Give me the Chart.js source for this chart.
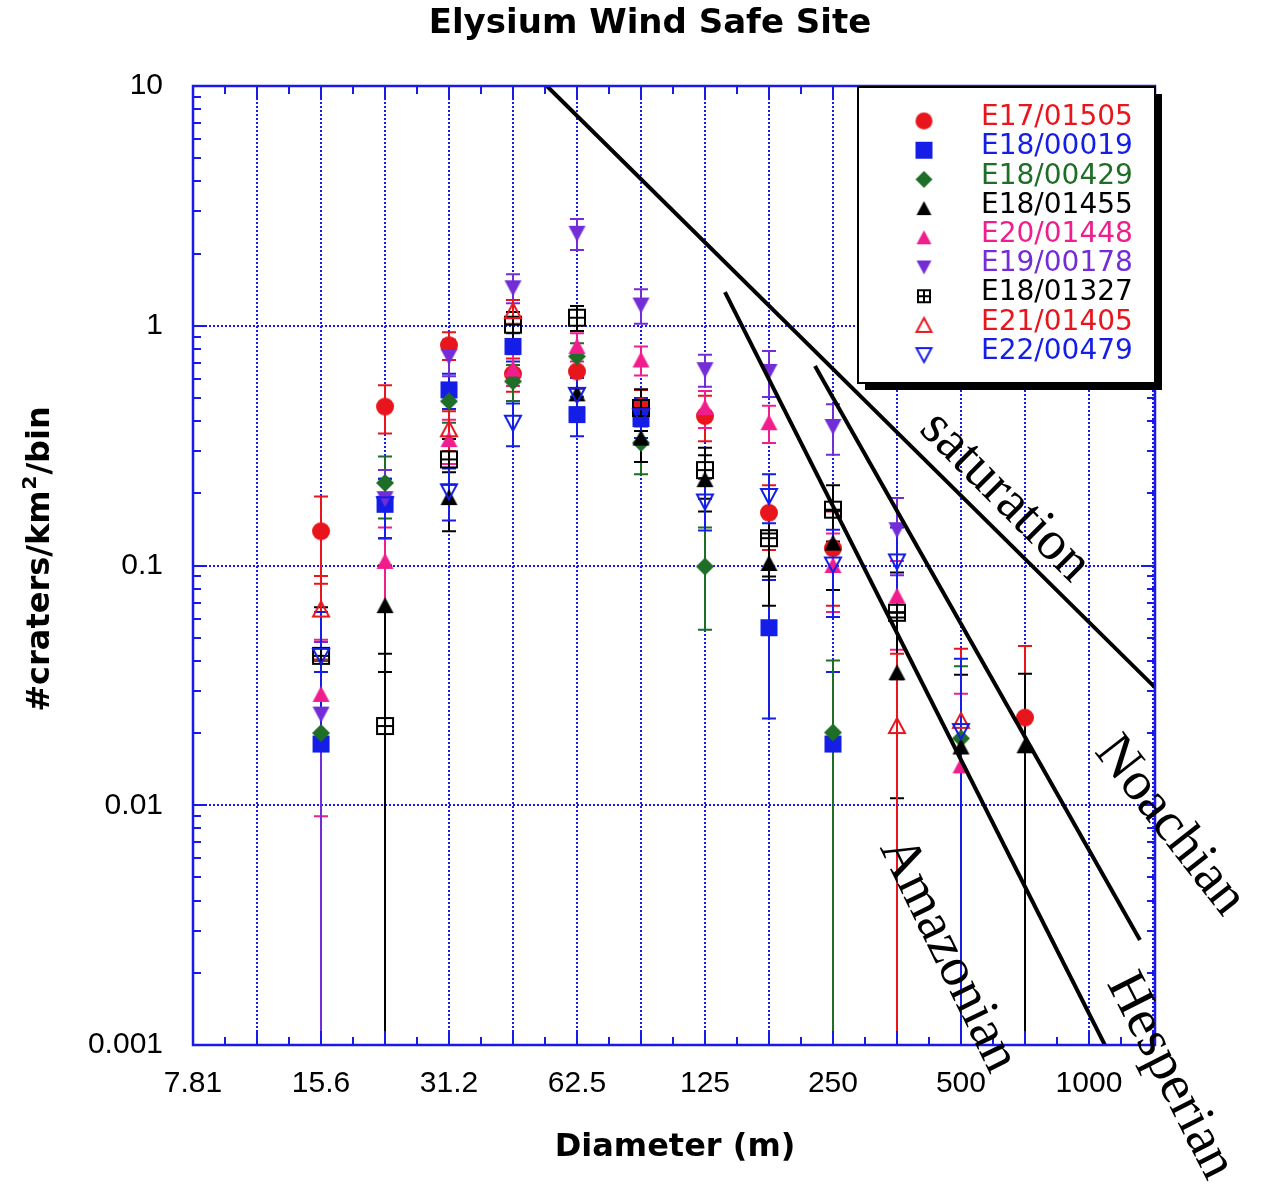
<!DOCTYPE html>
<html>
<head>
<meta charset="utf-8">
<title>Elysium Wind Safe Site</title>
<script src="https://cdn.jsdelivr.net/npm/chart.js@4.4.1/dist/chart.umd.min.js"></script>
<style>
  body { margin: 0; background: #fff; }
  canvas { display: block; }
</style>
</head>
<body>
<canvas id="Chart1" width="1263" height="1187"></canvas>
<script>
// crater diameter bins (m), sqrt(2) spacing
const diameters = [15.63, 22.1, 31.25, 44.19, 62.5, 88.39, 125, 176.8, 250, 353.6, 500, 707.1];

const xTickLabels = ['7.81', '15.6', '31.2', '62.5', '125', '250', '500', '1000'];
const yTickLabels = ['0.001', '0.01', '0.1', '1', '10'];

const seriesNames = ['E17/01505', 'E18/00019', 'E18/00429', 'E18/01455', 'E20/01448',
                     'E19/00178', 'E18/01327', 'E21/01405', 'E22/00479'];

const e17_01505    = [0.139, 0.46, 0.83, 0.63, 0.645, 0.46, 0.42, 0.166, 0.118, null, null, 0.0232];
const e17_01505Err = [0.055, 0.105, 0.11, 0.10, 0.10, 0.08, 0.09, 0.05, 0.05, null, null, 0.023];

const e18_00019    = [0.018, 0.18, 0.54, 0.82, 0.426, 0.41, null, 0.055, 0.018, null, null, null];
const e18_00019Err = [0.018, 0.05, 0.09, 0.11, 0.08, 0.07, null, 0.032, 0.018, null, null, null];

const e18_00429    = [0.020, 0.221, 0.484, 0.586, 0.745, 0.325, 0.099, null, 0.0201, null, 0.019, null];
const e18_00429Err = [0.020, 0.064, 0.09, 0.10, 0.10, 0.085, 0.045, null, 0.0201, null, 0.019, null];

const e18_01455    = [null, 0.068, 0.192, null, 0.52, 0.34, 0.228, 0.102, 0.124, 0.0357, 0.0175, 0.0177];
const e18_01455Err = [null, 0.032, 0.053, null, 0.09, 0.07, 0.06, 0.034, 0.045, 0.025, 0.0175, 0.0177];

const e20_01448    = [0.029, 0.104, 0.335, 0.66, 0.82, 0.72, 0.455, 0.394, 0.10, 0.0745, 0.0146, null];
const e20_01448Err = [0.020, 0.04, 0.07, 0.10, 0.11, 0.10, 0.08, 0.07, 0.036, 0.03, 0.0146, null];

const e19_00178    = [0.024, 0.19, 0.745, 1.44, 2.43, 1.22, 0.656, 0.645, 0.38, 0.141, null, null];
const e19_00178Err = [0.024, 0.06, 0.13, 0.20, 0.36, 0.20, 0.10, 0.14, 0.09, 0.05, null, null];

const e18_01327    = [0.042, 0.0214, 0.277, 1.01, 1.08, 0.454, 0.25, 0.13, 0.171, 0.0635, null, null];
const e18_01327Err = [0.025, 0.0214, 0.06, 0.13, 0.13, 0.09, 0.06, 0.04, 0.045, 0.03, null, null];

const e21_01405    = [0.0655, null, 0.37, 1.15, null, null, null, null, null, 0.0214, 0.0225, null];
const e21_01405Err = [0.025, null, 0.07, 0.13, null, null, null, null, null, 0.0214, 0.0225, null];

const e22_00479    = [0.042, 0.18, 0.204, 0.394, 0.515, 0.42, 0.185, 0.195, 0.101, 0.104, 0.0204, null];
const e22_00479Err = [0.022, 0.05, 0.05, 0.08, 0.09, 0.08, 0.045, 0.045, 0.04, 0.04, 0.0204, null];

// isochron / saturation reference lines (diameter, density)
const saturationX = [53.1, 1430];
const saturationY = [10, 0.031];
const noachianX = [226.8, 1318];
const noachianY = [0.679, 0.00274];
const hesperianX = [139.3, 1090];
const hesperianY = [1.38, 0.001];
const lineLabels = ['saturation', 'Noachian', 'Amazonian', 'Hesperian'];

document.addEventListener("DOMContentLoaded", function () {

  const AXIS_BLUE = 'rgb(25,25,235)';
  const RED = 'rgb(232,22,28)';
  const BLUE = 'rgb(20,30,230)';
  const GREEN = 'rgb(30,110,40)';
  const PINK = 'rgb(240,30,140)';
  const PURPLE = 'rgb(115,45,215)';

  function makeMarker(shape, color, size) {
    const c = document.createElement('canvas');
    c.width = size + 4;
    c.height = size + 4;
    const g = c.getContext('2d');
    const m = c.width / 2, r = size / 2;
    g.fillStyle = color;
    g.strokeStyle = color;
    g.lineWidth = 2;
    g.beginPath();
    if (shape === 'circle') {
      g.arc(m, m, r, 0, Math.PI * 2);
      g.fill();
    } else if (shape === 'square') {
      g.fillRect(m - r, m - r, size, size);
    } else if (shape === 'diamond') {
      g.moveTo(m, m - r); g.lineTo(m + r, m); g.lineTo(m, m + r); g.lineTo(m - r, m);
      g.closePath(); g.fill();
    } else if (shape === 'up' || shape === 'openUp') {
      g.moveTo(m, m - r + 1); g.lineTo(m + r - 1, m + r - 2); g.lineTo(m - r + 1, m + r - 2);
      g.closePath();
      shape === 'up' ? g.fill() : g.stroke();
    } else if (shape === 'down' || shape === 'openDown') {
      g.moveTo(m, m + r - 1); g.lineTo(m + r - 1, m - r + 2); g.lineTo(m - r + 1, m - r + 2);
      g.closePath();
      shape === 'down' ? g.fill() : g.stroke();
    } else if (shape === 'boxPlus') {
      g.strokeRect(m - r + 1, m - r + 1, size - 2, size - 2);
      g.moveTo(m, m - r + 1); g.lineTo(m, m + r - 1);
      g.moveTo(m - r + 1, m); g.lineTo(m + r - 1, m);
      g.stroke();
    }
    return c;
  }

  const seriesValues = [e17_01505, e18_00019, e18_00429, e18_01455, e20_01448,
                        e19_00178, e18_01327, e21_01405, e22_00479];
  const seriesErrors = [e17_01505Err, e18_00019Err, e18_00429Err, e18_01455Err, e20_01448Err,
                        e19_00178Err, e18_01327Err, e21_01405Err, e22_00479Err];
  const seriesColors = [RED, BLUE, GREEN, 'black', PINK, PURPLE, 'black', RED, BLUE];
  const seriesShapes = ['circle', 'square', 'diamond', 'up', 'up', 'down', 'boxPlus', 'openUp', 'openDown'];
  const seriesSizes = [18, 17, 18, 19, 19, 19, 18, 18, 18];

  const markers = seriesShapes.map((s, i) => makeMarker(s, seriesColors[i], seriesSizes[i]));
  const legendMarkers = seriesShapes.map((s, i) => makeMarker(s, seriesColors[i], s === 'boxPlus' ? 14 : 17));

  const datasets = seriesNames.map(function (name, i) {
    const pts = [];
    seriesValues[i].forEach(function (v, j) {
      if (v !== null) pts.push({ x: diameters[j], y: v });
    });
    return {
      label: name,
      data: pts,
      pointStyle: markers[i],
      pointRadius: 10,
      showLine: false,
      order: 10 - i
    };
  });

  [[saturationX, saturationY], [noachianX, noachianY], [hesperianX, hesperianY]].forEach(function (l) {
    datasets.push({
      label: '',
      data: l[0].map((x, k) => ({ x: x, y: l[1][k] })),
      showLine: true,
      borderColor: 'black',
      borderWidth: 4,
      pointRadius: 0,
      order: 0
    });
  });

  const errorBars = {
    id: 'errorBars',
    beforeDatasetsDraw(chart) {
      const { ctx, chartArea: a, scales: { x, y } } = chart;
      ctx.save();
      ctx.beginPath();
      ctx.rect(a.left, a.top, a.right - a.left, a.bottom - a.top);
      ctx.clip();
      ctx.lineWidth = 2;
      seriesValues.forEach(function (vals, i) {
        ctx.strokeStyle = seriesColors[i];
        vals.forEach(function (v, j) {
          if (v === null) return;
          const e = seriesErrors[i][j];
          const px = Math.round(x.getPixelForValue(diameters[j]));
          const top = y.getPixelForValue(v + e);
          const lowOk = v - e > 1e-9;
          const bot = lowOk ? y.getPixelForValue(v - e) : a.bottom;
          ctx.beginPath();
          ctx.moveTo(px, top); ctx.lineTo(px, bot);
          ctx.moveTo(px - 7, top); ctx.lineTo(px + 7, top);
          if (lowOk) { ctx.moveTo(px - 7, bot); ctx.lineTo(px + 7, bot); }
          ctx.stroke();
        });
      });
      ctx.restore();
    }
  };

  const decor = {
    id: 'decor',
    afterDraw(chart) {
      const { ctx, chartArea: a, scales: { x, y } } = chart;
      ctx.save();

      // frame and inward ticks
      ctx.strokeStyle = AXIS_BLUE;
      ctx.lineWidth = 2;
      ctx.beginPath();
      for (let k = 0; k <= 30; k++) {
        const px = Math.round(x.getPixelForValue(7.8125 * Math.pow(2, k / 4)));
        const len = k % 2 === 0 ? 14 : 8;
        ctx.moveTo(px, a.bottom); ctx.lineTo(px, a.bottom - len);
        ctx.moveTo(px, a.top); ctx.lineTo(px, a.top + len);
      }
      for (let e = -3; e <= 1; e++) {
        for (let m = 1; m <= 9; m++) {
          const v = m * Math.pow(10, e);
          if (v > 10.0001) break;
          const py = Math.round(y.getPixelForValue(v));
          const len = m === 1 ? 14 : 8;
          ctx.moveTo(a.left, py); ctx.lineTo(a.left + len, py);
          ctx.moveTo(a.right, py); ctx.lineTo(a.right - len, py);
        }
      }
      ctx.stroke();
      ctx.lineWidth = 2.5;
      ctx.strokeRect(a.left, a.top, a.right - a.left, a.bottom - a.top);

      // legend box with drop shadow
      const lx = 858, ly = 87, lw = 297, lh = 296;
      ctx.fillStyle = 'black';
      ctx.fillRect(lx + 7, ly + 7, lw, lh);
      ctx.fillStyle = 'white';
      ctx.fillRect(lx, ly, lw, lh);
      ctx.strokeStyle = 'black';
      ctx.lineWidth = 2;
      ctx.strokeRect(lx, ly, lw, lh);
      ctx.font = '28px "DejaVu Sans"';
      ctx.textAlign = 'left';
      ctx.textBaseline = 'middle';
      seriesNames.forEach(function (name, i) {
        const ry = 118 + i * 29.2;
        const mk = legendMarkers[i];
        ctx.drawImage(mk, 924 - mk.width / 2, ry + 3 - mk.height / 2);
        ctx.fillStyle = seriesColors[i];
        ctx.fillText(name, 981, ry);
      });

      // titles
      ctx.fillStyle = 'black';
      ctx.textAlign = 'center';
      ctx.font = 'bold 34px "DejaVu Sans"';
      ctx.fillText('Elysium Wind Safe Site', 650, 24);
      ctx.font = 'bold 32px "DejaVu Sans"';
      ctx.fillText('Diameter (m)', 675, 1148);

      ctx.save();
      ctx.translate(41, 560);
      ctx.rotate(-Math.PI / 2);
      ctx.textAlign = 'left';
      const p1 = '#craters/km', p2 = '2', p3 = '/bin';
      ctx.font = 'bold 32px "DejaVu Sans"';
      const w1 = ctx.measureText(p1).width, w3 = ctx.measureText(p3).width;
      ctx.font = 'bold 20px "DejaVu Sans"';
      const w2 = ctx.measureText(p2).width;
      let sx = -(w1 + w2 + w3) / 2;
      ctx.font = 'bold 32px "DejaVu Sans"';
      ctx.fillText(p1, sx, 0);
      ctx.font = 'bold 20px "DejaVu Sans"';
      ctx.fillText(p2, sx + w1 + 1, -10);
      ctx.font = 'bold 32px "DejaVu Sans"';
      ctx.fillText(p3, sx + w1 + w2 + 2, 0);
      ctx.restore();

      // rotated labels next to reference lines
      const place = [[1005, 497, 45], [1170, 826, 52], [948, 955, 64], [1170, 1076, 63]];
      ctx.font = '55px "Liberation Serif"';
      ctx.textAlign = 'center';
      ctx.textBaseline = 'middle';
      lineLabels.forEach(function (t, i) {
        ctx.save();
        ctx.translate(place[i][0], place[i][1]);
        ctx.rotate(place[i][2] * Math.PI / 180);
        ctx.fillText(t, 0, 0);
        ctx.restore();
      });
      ctx.restore();
    }
  };

  const gridColor = function (every) {
    return function (c) { return c.index % every === 0 ? AXIS_BLUE : 'rgba(0,0,0,0)'; };
  };

  const config1 = {
    type: 'scatter',
    data: { datasets: datasets },
    options: {
      responsive: false,
      animation: false,
      events: [],
      layout: { padding: { left: 0, top: 86, right: 108, bottom: 0 } },
      scales: {
        x: {
          type: 'logarithmic',
          min: 7.8125,
          max: 1430,
          afterBuildTicks: function (scale) {
            const t = [];
            for (let k = 0; k <= 30; k++) t.push({ value: 7.8125 * Math.pow(2, k / 4) });
            scale.ticks = t;
          },
          afterFit: function (scale) {
            scale.height = 142;
            scale.paddingLeft = 0;
            scale.paddingRight = 0;
          },
          grid: { color: gridColor(2), lineWidth: 2, drawTicks: false },
          border: { display: false, dash: [2, 2] },
          ticks: {
            autoSkip: false,
            maxRotation: 0,
            padding: 21,
            color: 'black',
            font: { family: '"Liberation Sans"', size: 30 },
            callback: function (v, i) { return i % 4 === 0 ? xTickLabels[i / 4] : ''; }
          }
        },
        y: {
          type: 'logarithmic',
          min: 0.001,
          max: 10,
          afterBuildTicks: function (scale) {
            const t = [];
            for (let e = -3; e <= 0; e++) {
              for (let m = 1; m <= 9; m++) t.push({ value: m * Math.pow(10, e) });
            }
            t.push({ value: 10 });
            scale.ticks = t;
          },
          afterFit: function (scale) {
            scale.width = 193;
            scale.paddingTop = 0;
            scale.paddingBottom = 0;
          },
          grid: { color: gridColor(9), lineWidth: 2, drawTicks: false },
          border: { display: false, dash: [2, 2] },
          ticks: {
            autoSkip: false,
            padding: 30,
            color: 'black',
            font: { family: '"Liberation Sans"', size: 30 },
            callback: function (v, i) { return i % 9 === 0 ? yTickLabels[i / 9] : ''; }
          }
        }
      },
      plugins: {
        legend: { display: false },
        tooltip: { enabled: false },
        title: { display: false }
      }
    },
    plugins: [errorBars, decor]
  };

  var myChart1 = new Chart(document.getElementById('Chart1'), config1);
});
</script>
</body>
</html>
